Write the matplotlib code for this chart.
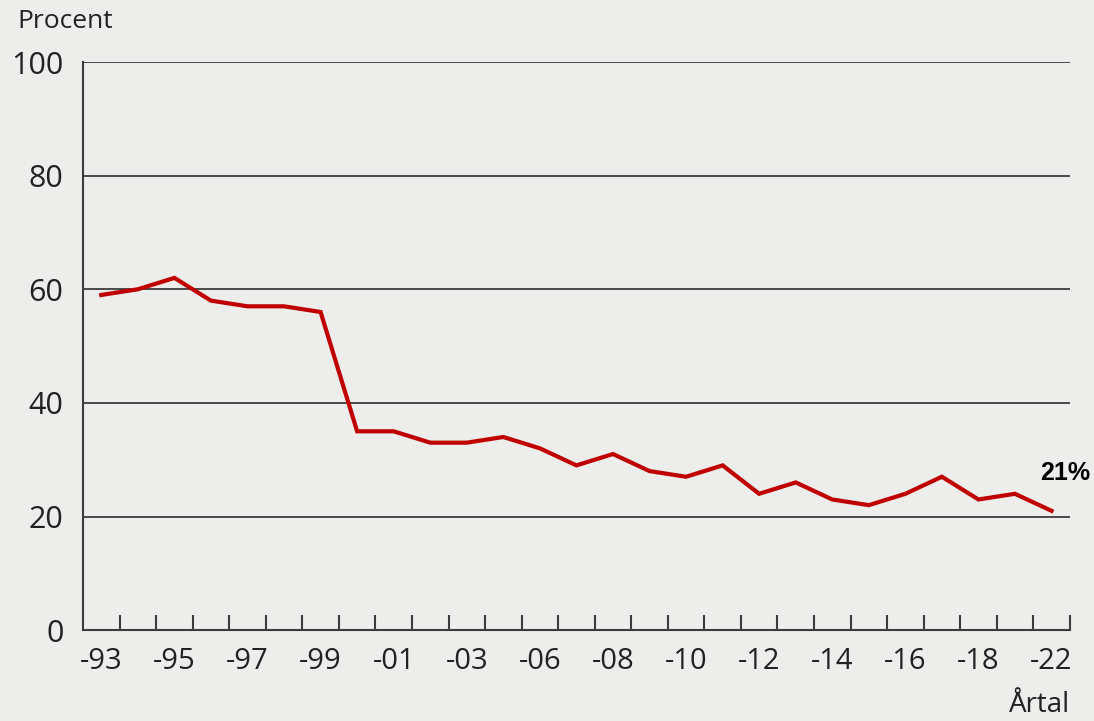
import numpy as np
import matplotlib.pyplot as plt

# andel i procent per år
years = ['93', '94', '95', '96', '97', '98', '99', '00', '01', '02', '03', '05',
         '06', '07', '08', '09', '10', '11', '12', '13', '14', '15', '16', '17',
         '18', '20', '22']
values = [59, 60, 62, 58, 57, 57, 56, 35, 35, 33, 33, 34, 32, 29, 31, 28, 27,
          29, 24, 26, 23, 22, 24, 27, 23, 24, 21]
yticks = [0, 20, 40, 60, 80, 100]

bg = '#ededeb'
red = '#c00000'
grid = '#3c3c3c'

fig = plt.figure(figsize=(10.94, 7.21), dpi=100, facecolor=bg)
ax = fig.add_axes([0.0759, 0.126, 0.902, 0.788], facecolor=bg)

x = np.arange(len(values))
ax.plot(x, values, color=red, lw=3, solid_joinstyle='miter', zorder=3)

ax.set_xlim(-0.5, len(values) - 0.5)
ax.set_ylim(0, 100)

# gridlines
for v in yticks[1:]:
    ax.axhline(v, color=grid, lw=1.3, zorder=1)

for s in ['top', 'right']:
    ax.spines[s].set_visible(False)
for s in ['left', 'bottom']:
    ax.spines[s].set_color(grid)
    ax.spines[s].set_linewidth(1.5)

ax.set_yticks(yticks)
ax.set_yticklabels([str(v) for v in yticks], fontsize=22, family='Open Sans',
                   color='#222222')
ax.tick_params(axis='y', length=0, pad=14)

# label every other year, tick marks between the categories
ax.set_xticks(x[::2])
ax.set_xticklabels(['-' + y for y in years[::2]], fontsize=21,
                   family='Open Sans', color='#222222')
ax.tick_params(axis='x', which='major', length=0, pad=12)
ax.set_xticks(x + 0.5, minor=True)
ax.tick_params(axis='x', which='minor', direction='in', length=11,
               width=1.5, color=grid)

fig.text(0.0155, 0.97, 'Procent', fontsize=19, family='Open Sans',
         color='#222222', ha='left', va='center')
fig.text(0.978, 0.022, 'Årtal', fontsize=20, family='Open Sans',
         color='#222222', ha='right', va='center')

ax.annotate('21%', xy=(x[-1], values[-1]), xytext=(10, 27),
            textcoords='offset points', fontsize=18, fontweight='bold',
            family='Liberation Sans', ha='center', va='center',
            annotation_clip=False)

fig.savefig('out.png', dpi=100, facecolor=bg)
